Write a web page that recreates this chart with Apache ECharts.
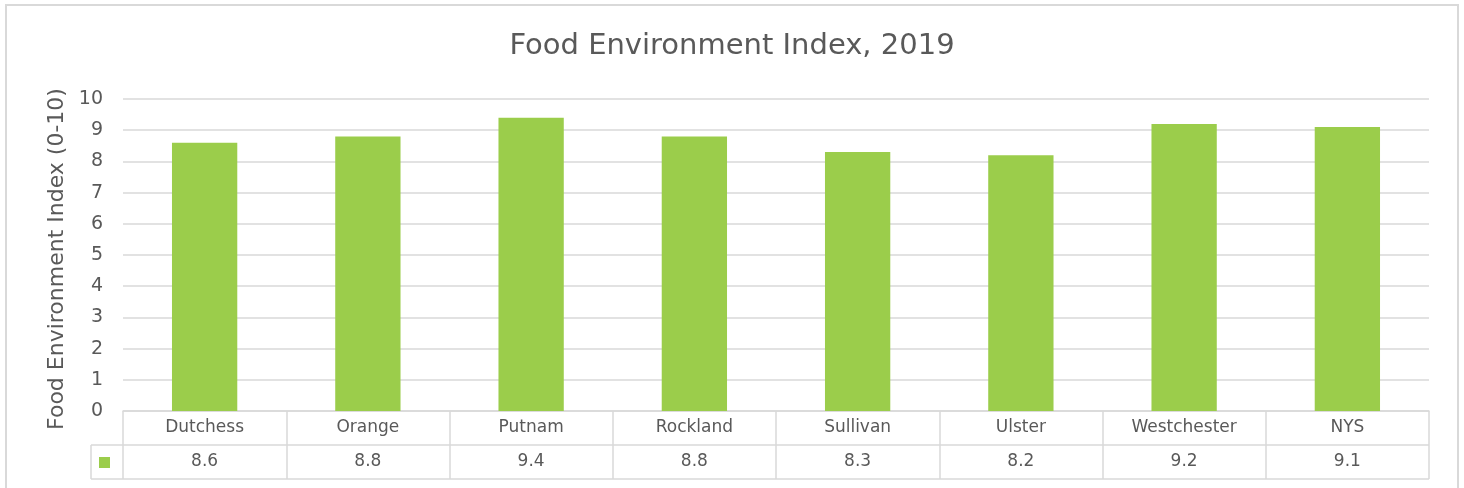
<!DOCTYPE html>
<html><head><meta charset="utf-8">
<script src="https://cdn.jsdelivr.net/npm/echarts@6/dist/echarts.min.js"></script>
<style>html,body{margin:0;padding:0;background:#fff}#c{width:1464px;height:488px}</style>
</head><body><div id="c"></div>
<script>
const categories = ['Dutchess','Orange','Putnam','Rockland','Sullivan','Ulster','Westchester','NYS'];
const values = [8.6, 8.8, 9.4, 8.8, 8.3, 8.2, 9.2, 9.1];
const titleText = 'Food Environment Index, 2019';
const yAxisName = 'Food Environment Index (0-10)';

const FONT = 'DejaVu Sans';
const TXT = '#595959';
const LINE = '#d9d9d9';
const GREEN = '#9BCD4B';

const chart = echarts.init(document.getElementById('c'), null, {renderer:'canvas'});
chart.setOption({
  animation:false,
  backgroundColor:'#fff',
  textStyle:{fontFamily:FONT},
  title:{text:titleText,left:'center',top:32,padding:0,textStyle:{fontFamily:FONT,fontSize:29,fontWeight:'normal',color:TXT}},
  legend:{show:true,left:99,top:457,padding:0,itemWidth:11,itemHeight:11,itemGap:0,formatter:()=>'' ,textStyle:{fontSize:1},data:[{name:'Index',icon:'rect'}]},
  grid:{left:123,right:35,top:99,bottom:77,containLabel:false},
  xAxis:{type:'category',data:categories,
    axisLine:{show:true,lineStyle:{color:LINE,width:1.5}},
    axisTick:{show:true,length:68,lineStyle:{color:LINE,width:1.5}},
    axisLabel:{interval:0,margin:0,formatter:(v,i)=>'{a|'+v+'}\n{b|'+values[i]+'}',
      rich:{a:{fontFamily:FONT,fontSize:17,color:TXT,lineHeight:34,height:34,verticalAlign:'middle'},
            b:{fontFamily:FONT,fontSize:17,color:TXT,lineHeight:34,height:34,verticalAlign:'middle'}}}
  },
  yAxis:{type:'value',min:0,max:10,interval:1,
    name:yAxisName,nameLocation:'middle',nameGap:55,nameRotate:90,
    nameTextStyle:{fontFamily:FONT,fontSize:22,color:TXT,padding:[0,0,0,-8]},
    axisLine:{show:false},axisTick:{show:false},
    axisLabel:{fontFamily:FONT,fontSize:19,color:TXT,margin:20},
    splitLine:{lineStyle:{color:LINE,width:1.5}}
  },
  series:[{name:'Index',type:'bar',data:values,barWidth:'40%',itemStyle:{color:GREEN}}]
});

function drawTable(){
  const p0 = chart.convertToPixel({gridIndex:0},[0,0]);
  const y0 = p0[1];
  const gridRight = 1464-35;
  const legendLeft = 91;
  const rowH = 34;
  const mk = (x1,y1,x2,y2)=>({type:'line',shape:{x1,y1,x2,y2},style:{stroke:LINE,lineWidth:1.5},silent:true});
  chart.setOption({graphic:[
    {type:'rect',shape:{x:6,y:5,width:1452,height:500},style:{fill:'none',stroke:LINE,lineWidth:2},silent:true,z:-1},
    mk(legendLeft,y0+rowH,gridRight,y0+rowH),
    mk(legendLeft,y0+2*rowH,gridRight,y0+2*rowH),
    mk(legendLeft,y0+rowH,legendLeft,y0+2*rowH)
  ]});
}
drawTable();
</script></body></html>
